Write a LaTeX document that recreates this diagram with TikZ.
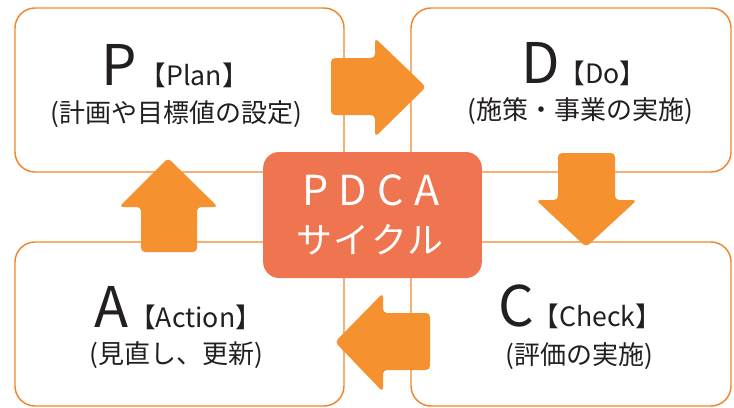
\documentclass[tikz,border=0pt]{standalone}
\usepackage{fontspec}
\setmainfont{Noto Sans CJK JP}
\definecolor{boxline}{HTML}{F0862C}
\definecolor{arrowfill}{HTML}{F5922F}
\definecolor{cyclefill}{HTML}{EF7450}
\definecolor{inktext}{HTML}{231F20}

\begin{document}
\begin{tikzpicture}[x=0.75pt, y=-0.75pt,
  stagebox/.style={draw=boxline, line width=1.1pt, rounded corners=15pt, fill=white},
  blockarrow/.style={fill=arrowfill, rounded corners=3pt},
  bigletter/.style={inktext, font=\fontsize{42}{42}\selectfont},
  tagtext/.style={inktext, inner sep=0pt, font=\fontsize{20}{22}\selectfont\addfontfeature{RawFeature=+halt}},
  subtext/.style={inktext, font=\fontsize{19.5}{21}\selectfont}]
\useasboundingbox (0,0) rectangle (734,407);
% boxes
\draw [stagebox] (15,8) rectangle (344,172);
\draw [stagebox] (411,8) rectangle (731,172);
\draw [stagebox] (15,242) rectangle (344,406);
\draw [stagebox] (411,242) rectangle (731,406);
% arrows
\fill [blockarrow] (331,58) -- (375,58) -- (375,38) -- (426,87) -- (375,137) -- (375,115) -- (331,115) -- cycle;
\fill [blockarrow] (558,153) -- (615,153) -- (615,200) -- (637,200) -- (586,247) -- (536,200) -- (558,200) -- cycle;
\fill [blockarrow] (430,313) -- (430,370) -- (383,370) -- (383,392) -- (335,342) -- (383,293) -- (383,313) -- cycle;
\fill [blockarrow] (141,252) -- (141,207) -- (119,207) -- (168,158) -- (218,207) -- (197,207) -- (197,252) -- cycle;
% centre
\node [fill=cyclefill, rounded corners=12pt, minimum width=164pt, minimum height=94.5pt] (cycle) at (372.5,215) {};
\node [white, font=\fontsize{31}{31}\selectfont\addfontfeature{LetterSpace=25}] (pdca) at (371,190) {PDCA};
\node [white, font=\fontsize{27}{27}\selectfont\addfontfeature{LetterSpace=5}] (saikuru) at (370,240) {サイクル};
% labels
\node [bigletter, anchor=base east] (plet) at (142,85) {P};
\node [tagtext, anchor=base west] (ptag) at ([xshift=8pt]plet.base east) {【Plan】};
\node [subtext] (psub) at (176,114) {(計画や目標値の設定)};
\node [bigletter, anchor=base east] (dlet) at (565,83) {D};
\node [tagtext, anchor=base west] (dtag) at ([xshift=5pt]dlet.base east) {【Do】};
\node [subtext] (dsub) at (580,111) {(施策・事業の実施)};
\node [bigletter, anchor=base east] (alet) at (133,327) {A};
\node [tagtext, anchor=base west] (atag) at ([xshift=7pt]alet.base east) {【Action】};
\node [subtext] (asub) at (176,355) {(見直し、更新)};
\node [bigletter, anchor=base east] (clet) at (539,326) {C};
\node [tagtext, anchor=base west] (ctag) at ([xshift=5pt]clet.base east) {【Check】};
\node [subtext] (csub) at (579,356) {(評価の実施)};
\end{tikzpicture}
\end{document}
